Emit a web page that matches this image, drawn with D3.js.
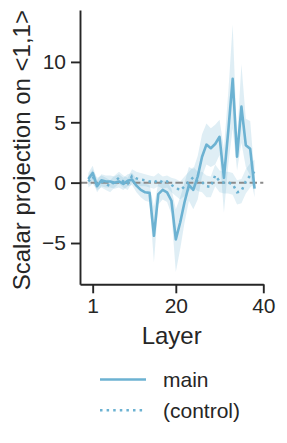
<!DOCTYPE html>
<html>
<head>
<meta charset="utf-8">
<script src="https://cdn.jsdelivr.net/npm/d3@7"></script>
<style>
  html, body { margin: 0; padding: 0; background: #fff; }
  svg { display: block; font-family: "Liberation Sans", Arial, sans-serif; }
</style>
</head>
<body>
<svg id="chart" width="287" height="443"></svg>
<script>
// ---- data ----
const layers = d3.range(0, 39);
const mainMean = [0.3, 0.8, -0.3, 0.2, 0.1, 0.1, 0.0, 0.1, -0.1, 0.15,
  0.25, -0.25, -0.6, -0.8, -0.85, -4.4, -0.95, -0.6, -0.8, -1.5,
  -4.7, -3.3, -1.6, -0.2, -0.6, 0.5, 2.15, 3.15, 2.85, 3.2,
  3.8, 0.4, 4.3, 8.6, 2.15, 6.3, 3.1, 2.8, -0.5];
const mainLo = [-0.2, 0.2, -0.8, -0.3, -0.4, -0.4, -0.5, -0.4, -0.6, -0.3,
  -0.2, -0.8, -1.2, -1.5, -1.6, -6.6, -1.8, -1.4, -1.6, -2.6,
  -7.4, -5.5, -3.3, -1.5, -2.2, -1.4, 0.5, 1.5, 1.3, 1.5,
  2.3, -2.5, 1.5, 4.5, 1.0, 3.3, 1.3, 0.6, -1.2];
const mainHi = [0.8, 1.4, 0.2, 0.7, 0.6, 0.6, 0.5, 0.7, 0.4, 0.7,
  0.8, 0.3, 0.1, -0.1, -0.2, -2.0, 0.0, 0.2, 0.1, -0.5,
  -2.2, -1.2, 0.0, 1.3, 1.1, 2.2, 4.0, 4.9, 4.5, 4.8,
  5.2, 2.8, 7.5, 13.1, 3.6, 9.8, 5.3, 5.1, 0.6];
const ctrlMean = [0.1, 0.5, -0.1, 0.1, -0.1, -0.3, 0.1, 0.4, 0.1, -0.1,
  0.55, 0.35, 0.25, 0.2, 0.1, 0.0, 0.25, 0.0, 0.1, -0.2,
  -0.4, -0.65, -0.3, 0.1, 0.45, 0.1, 0.05, -0.3, -0.35, 0.6,
  0.1, 0.0, 0.0, -0.1, -0.8, -0.7, 0.1, 0.6, 0.9];
const ctrlLo = [-0.4, -0.1, -0.6, -0.4, -0.6, -0.8, -0.4, -0.1, -0.4, -0.6,
  0.0, -0.2, -0.3, -0.3, -0.4, -0.5, -0.3, -0.5, -0.4, -0.8,
  -1.1, -1.4, -1.1, -0.7, -0.4, -0.7, -0.8, -1.2, -1.2, -0.3,
  -0.8, -0.9, -0.9, -1.0, -1.8, -1.7, -0.9, -0.4, -0.1];
const ctrlHi = [0.6, 1.1, 0.4, 0.6, 0.4, 0.2, 0.6, 0.9, 0.6, 0.4,
  1.1, 0.9, 0.8, 0.7, 0.6, 0.5, 0.8, 0.5, 0.6, 0.4,
  0.3, 0.1, 0.5, 0.9, 1.3, 0.9, 0.9, 0.6, 0.5, 1.5,
  1.0, 0.9, 0.9, 0.8, 0.2, 0.3, 1.1, 1.6, 1.9];
const xTicks = [1, 20, 40];
const yTicks = [-5, 0, 5, 10];
const seriesNames = ["main", "(control)"];

// ---- layout ----
const color = "#6cb2d2";
const ink = "#262626";
const svg = d3.select("#chart");
const x = d3.scaleLinear().domain([-1.9, 40]).range([80, 263.3]);
const y = d3.scaleLinear().domain([-8.42, 14.3]).range([284.3, 10]);

const area = (lo, hi) => d3.area()
  .x((d, i) => x(layers[i]))
  .y0((d, i) => y(lo[i]))
  .y1((d, i) => y(hi[i]));
const line = vals => d3.line()
  .x((d, i) => x(layers[i]))
  .y((d, i) => y(vals[i]));

// bands
svg.append("path").attr("d", area(ctrlLo, ctrlHi)(layers))
  .attr("fill", color).attr("fill-opacity", 0.2);
svg.append("path").attr("d", area(mainLo, mainHi)(layers))
  .attr("fill", color).attr("fill-opacity", 0.22);

// zero line
svg.append("line")
  .attr("x1", x.range()[0]).attr("x2", x.range()[1])
  .attr("y1", y(0)).attr("y2", y(0))
  .attr("stroke", "#8a8a8a").attr("stroke-width", 2)
  .attr("stroke-dasharray", "7.4,3.2");

// lines
svg.append("path").attr("d", line(ctrlMean)(layers))
  .attr("fill", "none").attr("stroke", color).attr("stroke-width", 2.5)
  .attr("stroke-dasharray", "2.5,4.1");
svg.append("path").attr("d", line(mainMean)(layers))
  .attr("fill", "none").attr("stroke", color).attr("stroke-width", 2.6)
  .attr("stroke-linejoin", "round");

// axes
const xAxis = svg.append("g").attr("transform", `translate(0,${y.range()[0]})`)
  .call(d3.axisBottom(x).tickValues(xTicks).tickSize(9).tickSizeOuter(0).tickPadding(5));
const yAxis = svg.append("g").attr("transform", `translate(${x.range()[0]},0)`)
  .call(d3.axisLeft(y).tickValues(yTicks).tickSize(9).tickSizeOuter(0).tickPadding(5));
[xAxis, yAxis].forEach(a => {
  a.select(".domain").attr("stroke", ink).attr("stroke-width", 1.9);
  a.selectAll(".tick line").attr("stroke", ink).attr("stroke-width", 1.9);
  a.selectAll(".tick text").attr("fill", ink).attr("font-size", 21)
    .attr("font-family", "Liberation Sans, Arial, sans-serif");
});

// axis labels
svg.append("text").attr("x", (x.range()[0] + x.range()[1]) / 2).attr("y", 344)
  .attr("text-anchor", "middle").attr("font-size", 24).attr("fill", ink)
  .text("Layer");
svg.append("text")
  .attr("transform", `translate(29.5,${(y.range()[0] + y.range()[1]) / 2 + 3}) rotate(-90)`)
  .attr("text-anchor", "middle").attr("font-size", 24).attr("fill", ink)
  .text("Scalar projection on <1,1>");

// legend
const leg = svg.append("g");
seriesNames.forEach((name, i) => {
  const ly = 379.5 + i * 30.7;
  leg.append("line").attr("x1", 100).attr("x2", 146).attr("y1", ly).attr("y2", ly)
    .attr("stroke", color).attr("stroke-width", 2.6)
    .attr("stroke-dasharray", i === 1 ? "2.5,4.1" : null);
  leg.append("text").attr("x", 163).attr("y", ly + 7.8)
    .attr("font-size", 21).attr("fill", ink).text(name);
});
</script>
</body>
</html>
